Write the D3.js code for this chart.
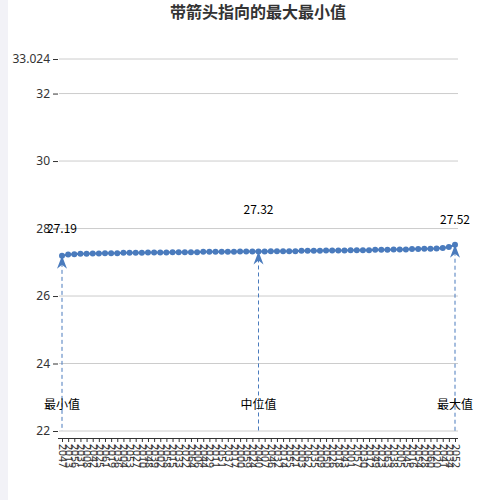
<!DOCTYPE html>
<html>
<head>
<meta charset="utf-8">
<script src="https://cdn.jsdelivr.net/npm/d3@7"></script>
<style>
  html, body { margin: 0; padding: 0; background: #f2f2f7; }
  svg { display: block; font-family: "Noto Sans CJK SC", "DejaVu Sans", sans-serif; }
</style>
</head>
<body>
<script>
// chart size
var width = 500;
var height = 500;

// x labels (sorted by value, so the years come out mixed)
var labels = ["2047", "2013", "2056", "2031", "2008", "2042", "2025", "2061", "2019", "2036",
              "2004", "2053", "2027", "2010", "2048", "2039", "2002", "2058", "2015", "2033",
              "2022", "2064", "2006", "2044", "2029", "2011", "2051", "2037", "2017", "2000",
              "2059", "2024", "2040", "2007", "2046", "2032", "2014", "2055", "2021", "2003",
              "2062", "2035", "2009", "2050", "2026", "2018", "2043", "2001", "2057", "2030",
              "2012", "2049", "2023", "2063", "2038", "2005", "2045", "2016", "2054", "2028",
              "2060", "2020", "2041", "2034", "2052"];

// series values
var values = [27.19, 27.23, 27.24, 27.25, 27.25, 27.26, 27.26, 27.27, 27.27, 27.27,
              27.28, 27.28, 27.28, 27.28, 27.29, 27.29, 27.29, 27.29, 27.30, 27.30,
              27.30, 27.30, 27.30, 27.31, 27.31, 27.31, 27.31, 27.31, 27.31, 27.32,
              27.32, 27.32, 27.32, 27.32, 27.33, 27.33, 27.33, 27.33, 27.33, 27.34,
              27.34, 27.34, 27.34, 27.35, 27.35, 27.35, 27.35, 27.36, 27.36, 27.36,
              27.36, 27.37, 27.37, 27.37, 27.38, 27.38, 27.38, 27.39, 27.39, 27.40,
              27.40, 27.41, 27.42, 27.45, 27.52];

// y ticks
var yTicks = [22, 24, 26, 28, 30, 32, 33.024];

// marked points
var markNames = ["最小值", "中位值", "最大值"];
var markIndex = [0, 32, 64];
var markLift = [23, 37, 21];

var blue = "#4a7bbd";

var svg = d3.select("body")
            .append("svg")
            .attr("width", width)
            .attr("height", height);

// white card
svg.append("rect")
   .attr("x", 8)
   .attr("y", -10)
   .attr("width", width)
   .attr("height", height + 20)
   .attr("rx", 8)
   .attr("fill", "white");

// title
svg.append("text")
   .attr("x", 258)
   .attr("y", 18)
   .attr("text-anchor", "middle")
   .style("font-size", "16px")
   .style("font-weight", "bold")
   .style("fill", "#333")
   .text("带箭头指向的最大最小值");

// scales
var x = d3.scalePoint()
          .domain(d3.range(values.length))
          .range([62, 455]);

var y = d3.scaleLinear()
          .domain([22, 33.024])
          .range([431, 59]);

// grid lines
svg.append("g")
   .selectAll("line")
   .data(yTicks)
   .enter()
   .append("line")
   .attr("x1", 59)
   .attr("x2", 458)
   .attr("y1", function(d) { return y(d); })
   .attr("y2", function(d) { return y(d); })
   .style("stroke", "#ccc")
   .style("stroke-width", 1);

// y axis (no domain line)
var yAxis = svg.append("g")
               .attr("transform", "translate(58,0)")
               .call(d3.axisLeft(y).tickValues(yTicks).tickSize(5).tickFormat(function(d) { return String(d); }));
yAxis.select(".domain").remove();
yAxis.selectAll("text").style("font-size", "12px").style("fill", "#333").style("font-family", "Noto Sans, sans-serif");
yAxis.selectAll("line").style("stroke", "#333");

// x axis
var xAxis = svg.append("g")
               .attr("transform", "translate(0,438)")
               .call(d3.axisBottom(x).tickSize(4).tickSizeOuter(0).tickFormat(function(i) { return labels[i]; }));
xAxis.select(".domain").attr("d", "M58,0.5H458").style("stroke", "#333");
xAxis.selectAll("line").style("stroke", "#333");
xAxis.selectAll("text")
     .attr("transform", "rotate(90)")
     .attr("x", 6)
     .attr("y", 0)
     .attr("dy", "0.35em")
     .style("text-anchor", "start")
     .style("font-size", "10.5px")
     .style("fill", "#333")
     .style("font-family", "Noto Sans, sans-serif");

// dashed lines from the marked points down
svg.append("g")
   .selectAll("line")
   .data(markIndex)
   .enter()
   .append("line")
   .attr("x1", function(i) { return x(i); })
   .attr("x2", function(i) { return x(i); })
   .attr("y1", function(i) { return y(values[i]); })
   .attr("y2", y(22))
   .style("stroke", blue)
   .style("stroke-width", 1)
   .style("stroke-dasharray", "4,3");

// line
var line = d3.line()
             .x(function(d, i) { return x(i); })
             .y(function(d) { return y(d); });

svg.append("path")
   .datum(values)
   .attr("d", line)
   .style("fill", "none")
   .style("stroke", blue)
   .style("stroke-width", 2);

// points
svg.append("g")
   .selectAll("circle")
   .data(values)
   .enter()
   .append("circle")
   .attr("cx", function(d, i) { return x(i); })
   .attr("cy", function(d) { return y(d); })
   .attr("r", 3)
   .style("fill", blue);

// arrow heads pointing up at the marked points
svg.append("g")
   .selectAll("path")
   .data(markIndex)
   .enter()
   .append("path")
   .attr("transform", function(i) { return "translate(" + x(i) + "," + y(values[i]) + ")"; })
   .attr("d", "M0,0L5,13L0,9L-5,13Z")
   .style("fill", blue);

// value labels above the points
svg.append("g")
   .selectAll("text")
   .data(markIndex)
   .enter()
   .append("text")
   .attr("x", function(i) { return x(i); })
   .attr("y", function(i, k) { return y(values[i]) - markLift[k]; })
   .attr("text-anchor", "middle")
   .style("font-size", "12px")
   .style("fill", "#000")
   .text(function(i) { return values[i].toFixed(2); });

// names near the bottom
svg.append("g")
   .selectAll("text")
   .data(markIndex)
   .enter()
   .append("text")
   .attr("x", function(i) { return x(i); })
   .attr("y", 409)
   .attr("text-anchor", "middle")
   .style("font-size", "12px")
   .style("fill", "#000")
   .text(function(i, k) { return markNames[k]; });
</script>
</body>
</html>
